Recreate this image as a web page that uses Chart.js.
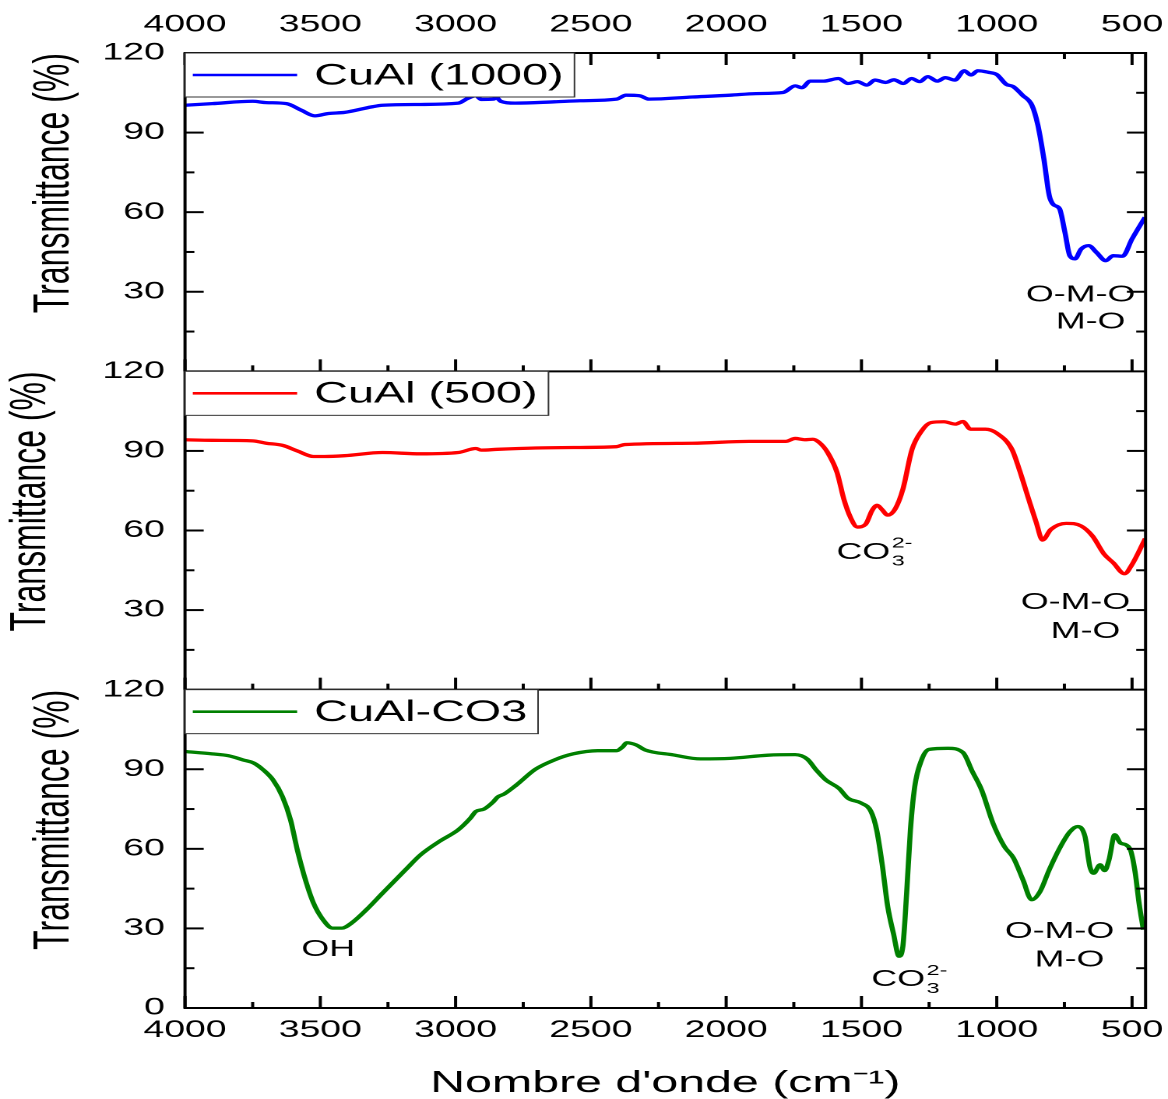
<!DOCTYPE html>
<html>
<head>
<meta charset="utf-8">
<script src="https://cdn.jsdelivr.net/npm/chart.js@4.4.0/dist/chart.umd.min.js"></script>
<style>
  html, body { margin: 0; padding: 0; background: #fff; }
  #wrap { width: 1168px; height: 1099px; overflow: hidden; }
  /* the figure is drawn narrow and widened, like the exported graph */
  #chart { display: block; transform-origin: 0 0; transform: scaleX(1.5573); }
</style>
</head>
<body>
<div id="wrap"><canvas id="chart" width="750" height="1099"></canvas></div>
<script>
// FTIR spectra: wavenumber (cm-1) and transmittance (%)
const wn1000 = [4000, 3900, 3750, 3700, 3625, 3570, 3520, 3470, 3410, 3310, 3270, 3130, 2990, 2955, 2925,
  2905, 2860, 2850, 2833, 2780, 2635, 2540, 2405, 2370, 2320, 2285, 2125, 1985, 1890, 1790,
  1745, 1720, 1690, 1640, 1585, 1550, 1515, 1480, 1450, 1410, 1380, 1345, 1315, 1285, 1255,
  1220, 1190, 1155, 1120, 1095, 1070, 1030, 1000, 965, 940, 905, 870, 848, 826, 806,
  790, 768, 748, 730, 711, 688, 660, 632, 597, 570, 535, 500, 452];
const tr1000 = [100.3, 100.9, 101.8, 101.3, 100.9, 98.4, 96.3, 97.2, 97.6, 99.7, 100.3, 100.6, 101.1, 102.9, 103.9,
  102.5, 102.6, 103.2, 101.8, 101.1, 101.6, 102, 102.6, 104.1, 103.9, 102.6, 103.4, 104.1, 104.7, 105.1,
  107.6, 106.9, 109.4, 109.4, 110.4, 108.5, 109.2, 107.9, 109.8, 108.9, 109.9, 108.5, 110.4, 109.2, 111.1,
  109.4, 110.7, 109.8, 113.3, 111.7, 113.3, 112.7, 111.9, 108.2, 107.4, 104.1, 100.3, 92.8, 80.2, 66.3,
  62.8, 61.3, 52.4, 43.6, 42.4, 46.1, 47.4, 44.9, 41.7, 43.6, 43.4, 49.9, 58.1];

const wn500 = [4000, 3900, 3750, 3700, 3640, 3585, 3525, 3485, 3410, 3270, 3130, 2990, 2925, 2905, 2845,
  2705, 2540, 2405, 2375, 2125, 1915, 1780, 1745, 1710, 1680, 1655, 1625, 1590, 1565, 1540,
  1515, 1485, 1460, 1442, 1425, 1403, 1375, 1347, 1313, 1278, 1243, 1195, 1153, 1125, 1097,
  1042, 1000, 944, 917, 882, 854, 831, 800, 743, 688, 646, 604, 569, 528, 500, 451];
const tr500 = [94.2, 94.0, 93.8, 92.9, 92.1, 90.0, 87.9, 87.9, 88.2, 89.4, 88.9, 89.4, 90.9, 90.3, 90.6,
  91.1, 91.3, 91.6, 92.4, 92.9, 93.6, 93.6, 94.7, 94.2, 94.4, 93.1, 89.4, 81.8, 71.8, 64.8,
  61.3, 62.3, 67.7, 69.5, 68.0, 65.8, 68.2, 75.5, 90.6, 97.5, 100.7, 101.0, 100.1, 101.1, 98.2,
  98.2, 96.7, 90.6, 83.1, 71.8, 63.0, 56.4, 60.4, 62.7, 61.7, 57.9, 51.2, 47.8, 43.7, 47.2, 57.0];

const wnCO3 = [4000, 3900, 3840, 3785, 3745, 3710, 3675, 3640, 3610, 3585, 3555, 3525, 3490, 3455, 3420,
  3385, 3330, 3270, 3185, 3130, 3060, 2990, 2945, 2925, 2895, 2860, 2845, 2820, 2775, 2705,
  2635, 2565, 2475, 2405, 2382, 2368, 2333, 2300, 2195, 2095, 1985, 1845, 1745, 1700, 1667,
  1632, 1583, 1550, 1500, 1465, 1444, 1424, 1403, 1382, 1361, 1347, 1333, 1319, 1303, 1278,
  1250, 1180, 1125, 1090, 1056, 1014, 972, 938, 903, 871, 840, 806, 764, 729, 701,
  674, 656, 642, 618, 601, 585, 564, 543, 522, 504, 488, 474, 458];
const trCO3 = [96.7, 95.8, 95.1, 93.5, 92.3, 89.7, 86.0, 79.7, 70.9, 59.6, 48.3, 39.5, 33.3, 30.1, 30.1,
  32.0, 37.0, 43.3, 52.1, 57.7, 62.8, 67.2, 71.6, 74.1, 75.0, 77.8, 79.5, 80.7, 84.1, 90.0,
  93.5, 95.8, 97.0, 97.0, 98.5, 100.0, 99.2, 97.3, 95.4, 93.9, 94.1, 95.3, 95.5, 93.8, 89.7,
  86.0, 82.8, 79.1, 77.2, 74.1, 67.2, 54.6, 38.3, 28.2, 19.5, 23.2, 43.3, 67.2, 83.5, 93.5,
  97.5, 97.9, 96.3, 89.1, 82.2, 69.7, 60.9, 56.5, 48.3, 40.8, 43.9, 52.1, 60.9, 66.5, 68.4,
  64.7, 53.4, 50.8, 54.0, 51.8, 55.9, 65.3, 62.2, 61.5, 59.0, 50.8, 39.5, 29.5];

const xTicks = [4000, 3500, 3000, 2500, 2000, 1500, 1000, 500];
const xMinor = [3750, 3250, 2750, 2250, 1750, 1250, 750];
const yTicks = [0, 30, 60, 90, 120];
const yMinor = [15, 45, 75, 105];

// band assignments (wavenumber, transmittance, panel)
const bands = [
  { axis: 'y1', x: 690, y: 28.7, text: 'O-M-O' },
  { axis: 'y1', x: 653, y: 18.5, text: 'M-O' },
  { axis: 'y2', x: 1452, y: 51.7, text: 'CO', sub: '3', sup: '2-' },
  { axis: 'y2', x: 709, y: 32.8, text: 'O-M-O' },
  { axis: 'y2', x: 672, y: 21.9, text: 'M-O' },
  { axis: 'y3', x: 3471, y: 21.9, text: 'OH' },
  { axis: 'y3', x: 1323, y: 10.6, text: 'CO', sub: '3', sup: '2-' },
  { axis: 'y3', x: 768, y: 28.7, text: 'O-M-O' },
  { axis: 'y3', x: 731, y: 18.1, text: 'M-O' }
];

const FAMILY = "'Liberation Sans', Arial, sans-serif";
Chart.defaults.font.family = FAMILY;
Chart.defaults.color = '#000';

const pairs = (xs, ys) => xs.map((x, i) => ({ x, y: ys[i] }));

// axis frame with inward ticks for every panel
const panelFrame = {
  id: 'panelFrame',
  afterDraw(chart) {
    const { ctx, chartArea: a, scales } = chart;
    const xs = scales.x;
    const seg = (x1, y1, x2, y2) => { ctx.beginPath(); ctx.moveTo(x1, y1); ctx.lineTo(x2, y2); ctx.stroke(); };
    ctx.save();
    ctx.strokeStyle = '#000';
    ctx.lineWidth = 2;
    ctx.strokeRect(a.left, a.top, a.right - a.left, a.bottom - a.top);
    ['y1', 'y2', 'y3'].forEach(id => {
      const ys = scales[id];
      const top = ys.getPixelForValue(120);
      const bot = ys.getPixelForValue(0);
      seg(a.left, bot, a.right, bot);
      yTicks.filter(v => v > 0 && v < 120).forEach(v => {
        const p = ys.getPixelForValue(v);
        seg(a.left, p, a.left + 12, p);
        seg(a.right, p, a.right - 12, p);
      });
      yMinor.forEach(v => {
        const p = ys.getPixelForValue(v);
        seg(a.left, p, a.left + 6, p);
        seg(a.right, p, a.right - 6, p);
      });
      xTicks.forEach(v => {
        const p = xs.getPixelForValue(v);
        seg(p, bot, p, bot - 12);
        if (id === 'y1') seg(p, top, p, top + 12);
      });
      xMinor.forEach(v => {
        const p = xs.getPixelForValue(v);
        seg(p, bot, p, bot - 6);
        if (id === 'y1') seg(p, top, p, top + 6);
      });
    });
    ctx.restore();
  }
};

// one boxed legend in the top-left corner of each panel
const panelLegend = {
  id: 'panelLegend',
  afterDraw(chart) {
    const { ctx, chartArea: a } = chart;
    ctx.save();
    chart.data.datasets.forEach(ds => {
      const top = chart.scales[ds.yAxisID].getPixelForValue(120);
      ctx.font = '30px ' + FAMILY;
      const w = 83 + ctx.measureText(ds.label).width + 7;
      const h = 44;
      ctx.fillStyle = '#fff';
      ctx.fillRect(a.left, top, w, h);
      ctx.strokeStyle = '#333';
      ctx.lineWidth = 1;
      ctx.strokeRect(a.left, top, w, h);
      ctx.strokeStyle = ds.borderColor;
      ctx.lineWidth = 2.6;
      ctx.beginPath();
      ctx.moveTo(a.left + 5, top + 22);
      ctx.lineTo(a.left + 72, top + 22);
      ctx.stroke();
      ctx.fillStyle = '#000';
      ctx.textAlign = 'left';
      ctx.textBaseline = 'middle';
      ctx.fillText(ds.label, a.left + 83, top + 23);
    });
    ctx.restore();
  }
};

// band labels, with sub/superscript for the carbonate ion
const bandNotes = {
  id: 'bandNotes',
  afterDraw(chart) {
    const { ctx, scales } = chart;
    ctx.save();
    ctx.fillStyle = '#000';
    ctx.textAlign = 'left';
    ctx.textBaseline = 'middle';
    bands.forEach(n => {
      const px = scales.x.getPixelForValue(n.x);
      const py = scales[n.axis].getPixelForValue(n.y);
      ctx.font = '23px ' + FAMILY;
      const mainW = ctx.measureText(n.text).width;
      let extraW = 0;
      if (n.sub) {
        ctx.font = '15px ' + FAMILY;
        extraW = 1 + Math.max(ctx.measureText(n.sub).width, ctx.measureText(n.sup).width);
      }
      const left = px - (mainW + extraW) / 2;
      ctx.font = '23px ' + FAMILY;
      ctx.fillText(n.text, left, py);
      if (n.sub) {
        ctx.font = '15px ' + FAMILY;
        ctx.fillText(n.sub, left + mainW + 1, py + 9);
        ctx.fillText(n.sup, left + mainW + 1, py - 9);
      }
    });
    ctx.restore();
  }
};

function yAxis(weight, titlePad, showZero) {
  return {
    type: 'linear',
    position: 'left',
    stack: 'panels',
    stackWeight: 1,
    weight: weight,
    min: 0,
    max: 120,
    grid: { display: false, drawTicks: false },
    border: { display: false },
    afterBuildTicks: s => { s.ticks = yTicks.map(v => ({ value: v })); },
    afterFit: s => { s.width = 118.8; s.paddingTop = 0; s.paddingBottom = 0; },
    ticks: {
      padding: 13,
      font: { size: 24 },
      callback: v => (v === 0 && !showZero ? '' : String(v))
    },
    title: {
      display: true,
      text: 'Transmittance (%)',
      align: 'end',
      font: { size: 32, lineHeight: 1.2 },
      padding: { top: titlePad, bottom: 0 }
    }
  };
}

const xBase = {
  type: 'linear',
  min: 450,
  max: 4000,
  reverse: true,
  grid: { display: false, drawTicks: false },
  border: { display: false },
  afterBuildTicks: s => { s.ticks = xTicks.map(v => ({ value: v })); }
};

new Chart(document.getElementById('chart'), {
  type: 'line',
  data: {
    datasets: [
      { label: 'CuAl (1000)', data: pairs(wn1000, tr1000), borderColor: '#0000ff', xAxisID: 'x', yAxisID: 'y1' },
      { label: 'CuAl (500)', data: pairs(wn500, tr500), borderColor: '#ff0000', xAxisID: 'x', yAxisID: 'y2' },
      { label: 'CuAl-CO3', data: pairs(wnCO3, trCO3), borderColor: '#008000', xAxisID: 'x', yAxisID: 'y3' }
    ]
  },
  options: {
    responsive: false,
    animation: false,
    devicePixelRatio: 2,
    events: [],
    layout: { padding: { left: 0, right: 14.4, top: 0, bottom: 0 } },
    elements: {
      point: { radius: 0 },
      line: { borderWidth: 3.3, cubicInterpolationMode: 'monotone', fill: false }
    },
    plugins: { legend: { display: false }, tooltip: { enabled: false } },
    scales: {
      x: Object.assign({}, xBase, {
        position: 'bottom',
        afterFit: s => { s.height = 91; s.paddingLeft = 0; s.paddingRight = 0; },
        ticks: { padding: 8, font: { size: 24 }, autoSkip: false, maxRotation: 0, callback: v => String(v) },
        title: { display: true, text: "Nombre d'onde (cm⁻¹)", font: { size: 31, lineHeight: 1 }, padding: 0 }
      }),
      x2: Object.assign({}, xBase, {
        position: 'top',
        afterFit: s => { s.height = 53; s.paddingLeft = 0; s.paddingRight = 0; },
        ticks: { padding: 13.6, font: { size: 24 }, autoSkip: false, maxRotation: 0, callback: v => String(v) }
      }),
      y1: yAxis(3, 16, false),
      y2: yAxis(2, 1, false),
      y3: yAxis(1, 16, true)
    }
  },
  plugins: [panelFrame, panelLegend, bandNotes]
});
</script>
</body>
</html>
